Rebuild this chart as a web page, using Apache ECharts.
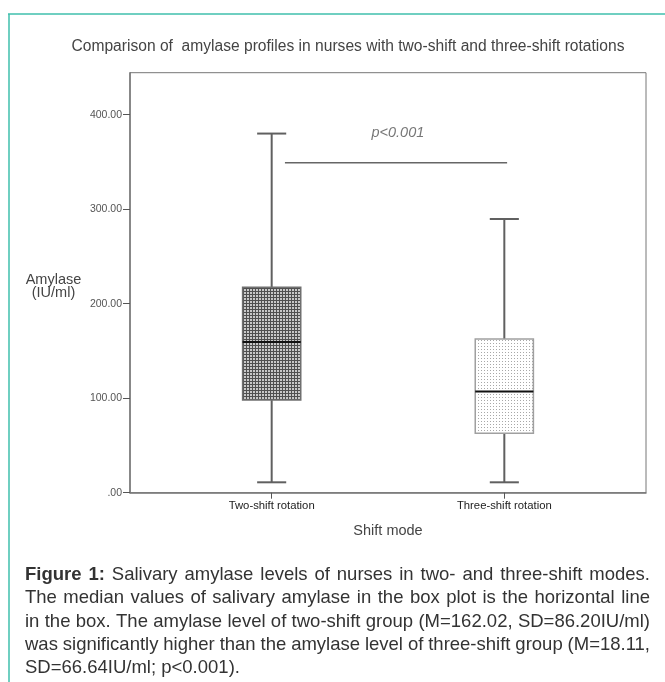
<!DOCTYPE html>
<html>
<head>
<meta charset="utf-8">
<script src="https://cdn.jsdelivr.net/npm/echarts@6/dist/echarts.min.js"></script>
<style>
html,body{margin:0;padding:0;background:#fff;}
#chart{width:665px;height:682px;}
</style>
</head>
<body>
<div id="chart"></div>
<script>
// ---- data ----
const categories = ['Two-shift rotation', 'Three-shift rotation'];
const whiskerLow = [11, 11];
const q1Values = [98, 63];
const medianValues = [159.5, 107];
const q3Values = [217.5, 162.6];
const whiskerHigh = [380, 289.6];
const yTicks = [0, 100, 200, 300, 400];
const sigLineX = [1.057, 2.012];
const sigLineY = 349;
const sigText = 'p<0.001';
const titleText = 'Comparison of  amylase profiles in nurses with two-shift and three-shift rotations';
const captionLines = [
  'Figure 1: Salivary amylase levels of nurses in two- and three-shift modes.',
  'The median values of salivary amylase in the box plot is the horizontal line',
  'in the box. The amylase level of two-shift group (M=162.02, SD=86.20IU/ml)',
  'was significantly higher than the amylase level of three-shift group (M=18.11,',
  'SD=66.64IU/ml; p<0.001).'
];

// ---- patterns ----
function makePattern(w, h, bg, dots) {
  const c = document.createElement('canvas');
  c.width = w; c.height = h;
  const ctx = c.getContext('2d');
  ctx.fillStyle = bg; ctx.fillRect(0, 0, w, h);
  dots.forEach(d => { ctx.fillStyle = d[2]; ctx.fillRect(d[0], d[1], d[3] || 1, d[4] || 1); });
  return c;
}
const gridPat = makePattern(3, 3, '#c8c8c8', [[0,0,'#505050',3,1],[0,0,'#505050',1,3]]);
const dotPat = makePattern(3, 3, '#ffffff', [[1,1,'#a8a8a8']]);
const patterns = [gridPat, dotPat];
const borderColors = ['#707070', '#a0a0a0'];

const boxData = categories.map((c, i) => [i + 1, whiskerLow[i], q1Values[i], medianValues[i], q3Values[i], whiskerHigh[i]]);

const chart = echarts.init(document.getElementById('chart'), null, {renderer: 'canvas'});

// caption justification
const mctx = document.createElement('canvas').getContext('2d');
const capFont = 'Liberation Sans, Arial, sans-serif';
const capSize = 18.5;
const capLeft = 25, capRight = 650, capY0 = 575, capDy = 23.3;
const captionGraphics = [];
captionLines.forEach((line, li) => {
  const words = line.split(' ');
  const bolds = words.map((w, wi) => li === 0 && wi < 2);
  const widths = words.map((w, wi) => {
    mctx.font = (bolds[wi] ? 'bold ' : '') + capSize + 'px ' + capFont;
    return mctx.measureText(w).width;
  });
  const justify = li < captionLines.length - 1;
  mctx.font = capSize + 'px ' + capFont;
  const spaceW = mctx.measureText(' ').width;
  const total = widths.reduce((a, b) => a + b, 0);
  const gap = justify ? (capRight - capLeft - total) / (words.length - 1) : spaceW;
  let x = capLeft;
  words.forEach((w, wi) => {
    captionGraphics.push({
      type: 'text', x: x, y: capY0 + li * capDy,
      style: {text: w, fontSize: capSize, fontFamily: capFont, fontWeight: bolds[wi] ? 'bold' : 'normal',
              fill: '#333', align: 'left', verticalAlign: 'middle'}
    });
    x += widths[wi] + gap;
  });
});

const option = {
  backgroundColor: '#fff',
  animation: false,
  grid: {left: 130, top: 72.7, width: 516, height: 420, show: true, borderColor: '#777', borderWidth: 1, containLabel: false},
  xAxis: {
    type: 'value', min: 0.391, max: 2.609,
    axisLine: {show: true, lineStyle: {color: '#777', width: 1.5}},
    splitLine: {show: false},
    axisTick: {show: true, customValues: [1, 2], length: 6, lineStyle: {color: '#555'}},
    axisLabel: {customValues: [1, 2], formatter: v => categories[Math.round(v) - 1] || '',
      fontSize: 11.3, fontFamily: 'Liberation Sans, Arial', color: '#222', margin: 8}
  },
  yAxis: {
    type: 'value', min: 0, max: 444.4,
    axisLine: {show: true, lineStyle: {color: '#777', width: 1.5}},
    splitLine: {show: false},
    axisTick: {show: true, customValues: yTicks, length: 7, lineStyle: {color: '#555'}},
    axisLabel: {customValues: yTicks, formatter: v => v === 0 ? '.00' : v.toFixed(2),
      fontSize: 10.5, fontFamily: 'Liberation Sans, Arial', color: '#555', margin: 8}
  },
  graphic: [
    {type: 'line', shape: {x1: 8, y1: 14, x2: 665, y2: 14}, style: {stroke: '#3fbfad', lineWidth: 1.5}},
    {type: 'line', shape: {x1: 9, y1: 14, x2: 9, y2: 682}, style: {stroke: '#3fbfad', lineWidth: 1.5}},
    {type: 'text', x: 348, y: 47, style: {text: titleText, fontSize: 15.6, fontFamily: 'Liberation Sans, Arial', fill: '#444', align: 'center', verticalAlign: 'middle'}},
    {type: 'text', x: 53.5, y: 280, style: {text: 'Amylase', fontSize: 14.5, fontFamily: 'Liberation Sans, Arial', fill: '#444', align: 'center', verticalAlign: 'middle'}},
    {type: 'text', x: 53.5, y: 293.3, style: {text: '(IU/ml)', fontSize: 14.5, fontFamily: 'Liberation Sans, Arial', fill: '#444', align: 'center', verticalAlign: 'middle'}},
    {type: 'text', x: 388, y: 530.7, style: {text: 'Shift mode', fontSize: 14.5, fontFamily: 'Liberation Sans, Arial', fill: '#444', align: 'center', verticalAlign: 'middle'}}
  ].concat(captionGraphics),
  series: [
    {
      type: 'custom',
      data: boxData,
      encode: {x: 0, y: [1, 2, 3, 4, 5]},
      renderItem: function (params, api) {
        const i = params.dataIndex;
        const xv = api.value(0);
        const pMin = api.coord([xv, api.value(1)]);
        const pQ1 = api.coord([xv, api.value(2)]);
        const pMed = api.coord([xv, api.value(3)]);
        const pQ3 = api.coord([xv, api.value(4)]);
        const pMax = api.coord([xv, api.value(5)]);
        const bw = api.size([0.25, 0])[0];
        const cw = api.size([0.125, 0])[0];
        const cx = pQ1[0];
        const wStyle = {stroke: '#606060', lineWidth: 2};
        return {
          type: 'group',
          children: [
            {type: 'line', shape: {x1: cx, y1: pMin[1], x2: cx, y2: pQ1[1]}, style: wStyle},
            {type: 'line', shape: {x1: cx, y1: pQ3[1], x2: cx, y2: pMax[1]}, style: wStyle},
            {type: 'line', shape: {x1: cx - cw / 2, y1: pMin[1], x2: cx + cw / 2, y2: pMin[1]}, style: wStyle},
            {type: 'line', shape: {x1: cx - cw / 2, y1: pMax[1], x2: cx + cw / 2, y2: pMax[1]}, style: wStyle},
            {type: 'rect', shape: {x: cx - bw / 2, y: pQ3[1], width: bw, height: pQ1[1] - pQ3[1]},
              style: {fill: {image: patterns[i], repeat: 'repeat'}, stroke: borderColors[i], lineWidth: 1.5}},
            {type: 'line', shape: {x1: cx - bw / 2, y1: pMed[1], x2: cx + bw / 2, y2: pMed[1]}, style: {stroke: '#111', lineWidth: 2}}
          ]
        };
      }
    },
    {
      type: 'line',
      data: sigLineX.map(x => [x, sigLineY]),
      symbol: 'none',
      lineStyle: {color: '#666', width: 1.5}
    },
    {
      type: 'scatter',
      data: [[(sigLineX[0] + sigLineX[1]) / 2 + 0.008, 380.5]],
      symbolSize: 0,
      label: {show: true, position: 'inside', formatter: sigText, fontSize: 14.5, fontStyle: 'italic',
        fontFamily: 'Liberation Sans, Arial', color: '#555'}
    }
  ]
};
chart.setOption(option);
</script>
</body>
</html>
